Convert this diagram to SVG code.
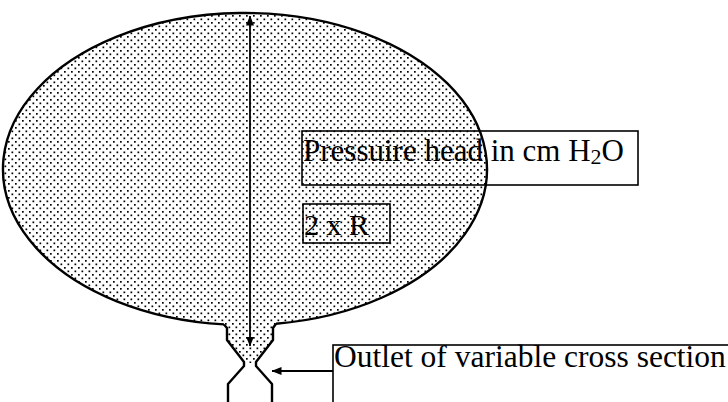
<svg xmlns="http://www.w3.org/2000/svg" width="728" height="402" viewBox="0 0 728 402">
<style>
.outline{fill:none;stroke:#000;stroke-width:2.4;stroke-linejoin:round}
.box{fill:none;stroke:#000;stroke-width:1.6}
.conn{fill:none;stroke:#000;stroke-width:1.8}
.lbl{font-family:"Liberation Serif","Times New Roman",serif;fill:#000}
</style>
<defs>
<pattern id="dots" x="0" y="0" width="7" height="7" patternUnits="userSpaceOnUse">
<rect x="1" y="1" width="1.7" height="1.7" fill="#000"/>
<rect x="4.5" y="4.5" width="1.7" height="1.7" fill="#000"/>
</pattern>
<marker id="ah" viewBox="0 0 10 8" refX="9.5" refY="4" markerWidth="10" markerHeight="8" markerUnits="userSpaceOnUse" orient="auto-start-reverse">
<path d="M0,0 L10,4 L0,8 Z" fill="#000"/>
</marker>
</defs>
<rect width="728" height="402" fill="#fff"/>
<g id="vessel">
<path d="M224,324.4 A242,156 0 1 1 276,323.7 L273,328 L273,340 L256,363 L244,363 L227,340 L227,328 Z" fill="url(#dots)"/>
<path class="outline" d="M224,324.4 A242,156 0 1 1 276,323.7"/>
<path class="outline" d="M224,324.4 L227,328 L227,340 L244,362 L244,366 L228,384 L228,402"/>
<path class="outline" d="M276,323.7 L273,328 L273,340 L256,362 L256,366 L272,384 L272,402"/>
</g>
<g id="connectors">
<line class="conn" x1="250" y1="16" x2="250" y2="346" marker-start="url(#ah)" marker-end="url(#ah)"/>
<line class="conn" x1="333" y1="371" x2="272" y2="371" marker-end="url(#ah)"/>
</g>
<g id="pressure-label">
<rect class="box" x="302" y="131" width="336" height="54"/>
<text class="lbl" x="303" y="161" font-size="31">Pressuire head in cm H<tspan font-size="22" dy="3">2</tspan><tspan dy="-3">O</tspan></text>
</g>
<g id="radius-label">
<rect class="box" x="303" y="204" width="87" height="39"/>
<text class="lbl" x="304" y="235" font-size="30">2 x R</text>
</g>
<g id="outlet-label">
<rect class="box" x="333" y="345" width="420" height="100"/>
<text class="lbl" x="334" y="367" font-size="31.5">Outlet of variable cross section</text>
</g>
</svg>
